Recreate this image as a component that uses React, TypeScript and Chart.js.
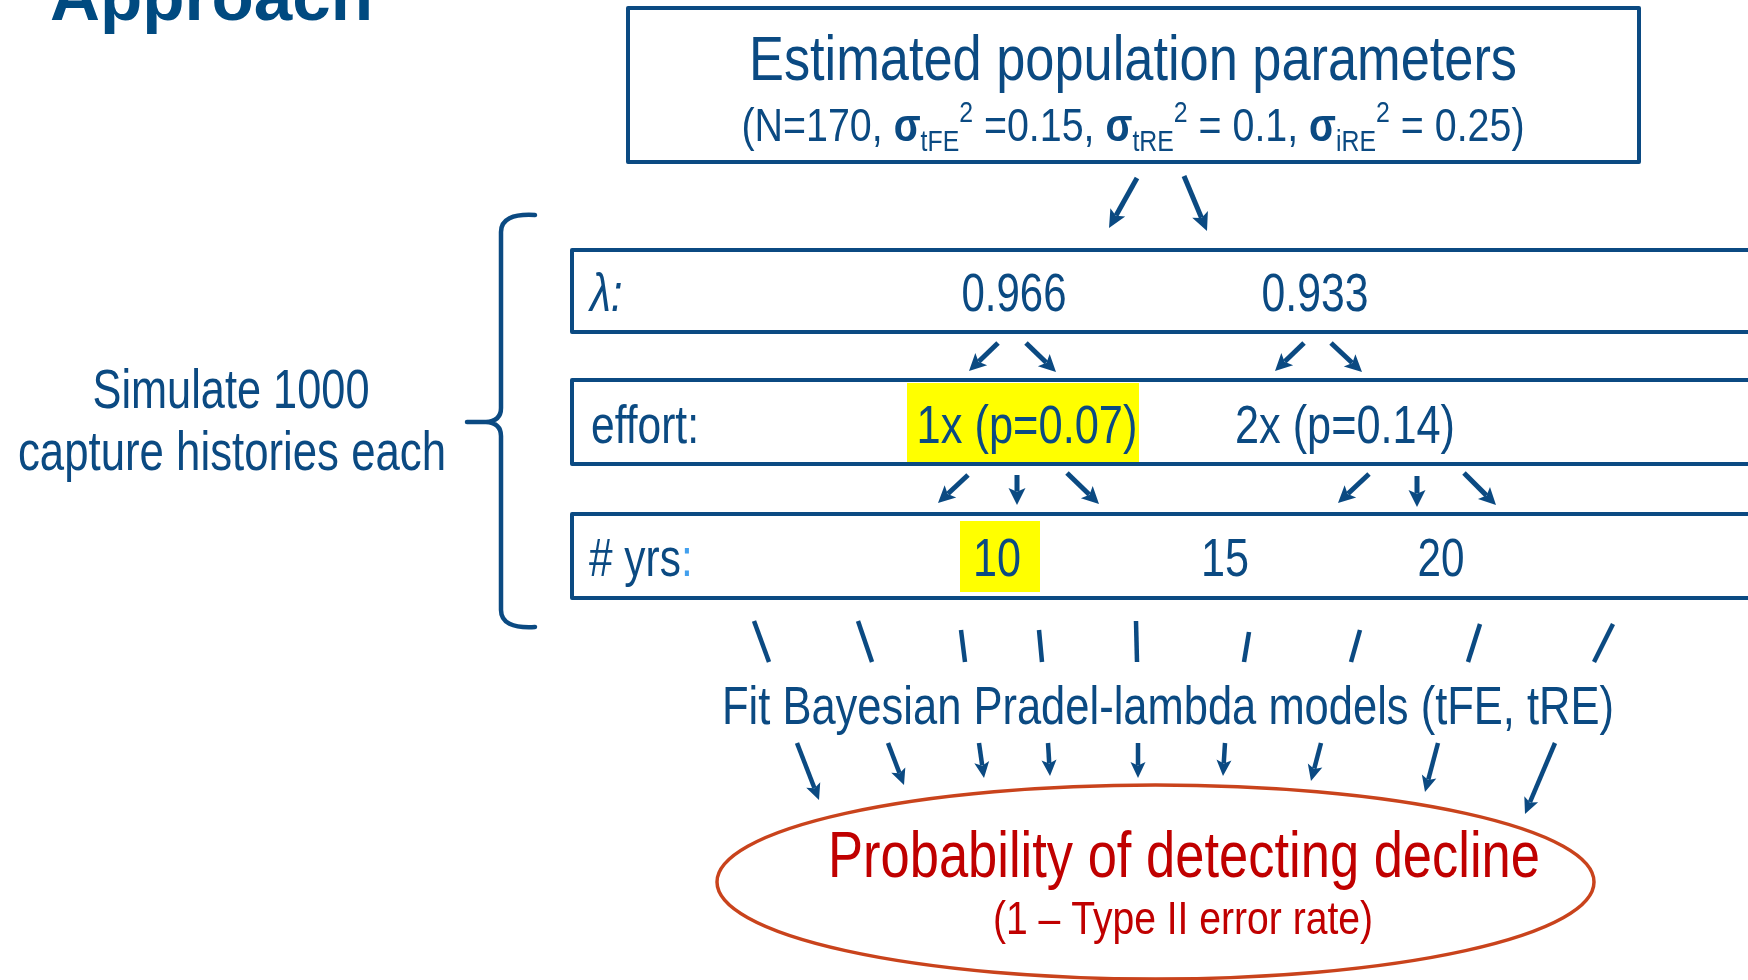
import { useEffect, useRef } from "react";
import { Chart, registerables } from "chart.js";

Chart.register(...registerables);

// ---------- content ----------
const slideTitle = "Approach";
const paramTitle = "Estimated population parameters";
const paramSegments = [
  { t: "(N=170, ", k: "n" },
  { t: "σ", k: "b" },
  { t: "tFE", k: "sub" },
  { t: "2", k: "sup" },
  { t: " =0.15, ", k: "n" },
  { t: "σ", k: "b" },
  { t: "tRE", k: "sub" },
  { t: "2", k: "sup" },
  { t: " = 0.1, ", k: "n" },
  { t: "σ", k: "b" },
  { t: "iRE", k: "sub" },
  { t: "2", k: "sup" },
  { t: " = 0.25)", k: "n" },
];
const simulateLines = ["Simulate 1000", "capture histories each"];
const rowLabels = ["λ:", "effort:", "# yrs"];
const lambdaValues = ["0.966", "0.933"];
const effortLevels = ["1x (p=0.07)", "2x (p=0.14)"];
const yearCounts = ["10", "15", "20"];
const highlightedEffort = "1x (p=0.07)";
const highlightedYears = "10";
const fitLabel = "Fit Bayesian Pradel-lambda models (tFE, tRE)";
const outcomeLines = ["Probability of detecting decline", "(1 – Type II error rate)"];

// ---------- layout (diagram geometry, pixel units of the 1748x980 plane) ----------
const W = 1748;
const H = 980;
const BLUE = "#0b4a82";
const LIGHT_BLUE = "#42a0ee";
const RED = "#c00000";
const ORANGE = "#c9431c";
const YELLOW = "#ffff00";
const FONT = "'Liberation Sans', Arial, sans-serif";

const lambdaX = [1014, 1315];
const lambdaW = [105, 107];
const effortX = [1027, 1345];
const effortW = [221, 220];
const yearX = [997, 1225, 1441];
const yearW = [48, 48, 47];

const topArrows = [
  [1137, 178, 1109, 228],
  [1184, 176, 1207, 231],
];
const lambdaArrows = [
  [998, 343, 969, 371],
  [1026, 343, 1056, 372],
  [1304, 343, 1275, 371],
  [1331, 343, 1362, 372],
];
const effortArrows = [
  [968, 475, 938, 503],
  [1017, 475, 1017, 505],
  [1067, 473, 1099, 504],
  [1369, 474, 1338, 503],
  [1417, 476, 1417, 507],
  [1464, 473, 1496, 505],
];
const slashLines = [
  [754, 621, 769, 662],
  [858, 621, 872, 662],
  [961, 630, 965, 662],
  [1039, 630, 1042, 662],
  [1136, 621, 1137, 662],
  [1249, 632, 1244, 662],
  [1360, 630, 1351, 662],
  [1480, 624, 1468, 662],
  [1613, 624, 1594, 662],
];
const fitArrows = [
  [797, 743, 819, 800],
  [888, 743, 904, 785],
  [979, 743, 984, 778],
  [1048, 743, 1050, 776],
  [1138, 743, 1138, 778],
  [1225, 743, 1223, 776],
  [1321, 743, 1311, 781],
  [1438, 743, 1425, 792],
  [1555, 743, 1525, 814],
];

type Arrow = number[];

function shaft(a: Arrow, headLen: number) {
  const [x1, y1, x2, y2] = a;
  const dx = x2 - x1;
  const dy = y2 - y1;
  const L = Math.hypot(dx, dy);
  const k = (L - headLen * 0.8) / L;
  return [
    { x: x1, y: y1 },
    { x: x1 + dx * k, y: y1 + dy * k },
  ];
}

function lineDataset(pts: { x: number; y: number }[], width: number) {
  return {
    data: pts,
    showLine: true,
    borderColor: BLUE,
    backgroundColor: BLUE,
    borderWidth: width,
    pointRadius: 0,
    borderCapStyle: "butt" as const,
    fill: false,
    tension: 0,
  };
}

export default function App() {
  const canvasRef = useRef<HTMLCanvasElement | null>(null);

  useEffect(() => {
    document.body.style.margin = "0";
    const canvas = canvasRef.current;
    if (!canvas) return;

    const headed: { a: Arrow; len: number; half: number }[] = [];
    const datasets: any[] = [];
    const addArrows = (list: Arrow[], w: number, len: number, half: number) => {
      list.forEach((a) => {
        datasets.push(lineDataset(shaft(a, len), w));
        headed.push({ a, len, half });
      });
    };
    addArrows(topArrows, 5, 18, 8.5);
    addArrows(lambdaArrows, 5, 17, 8.5);
    addArrows(effortArrows, 5, 17, 8.5);
    addArrows(fitArrows, 4.5, 16, 7.5);
    slashLines.forEach((s) =>
      datasets.push(lineDataset([{ x: s[0], y: s[1] }, { x: s[2], y: s[3] }], 4.5))
    );

    const diagram = {
      id: "diagram",
      beforeDatasetsDraw(chart: any) {
        const ctx: CanvasRenderingContext2D = chart.ctx;
        const X = (v: number) => chart.scales.x.getPixelForValue(v);
        const Y = (v: number) => chart.scales.y.getPixelForValue(v);
        ctx.save();
        ctx.fillStyle = "#ffffff";
        ctx.fillRect(0, 0, chart.width, chart.height);
        // highlights
        ctx.fillStyle = YELLOW;
        const hiE = effortLevels.indexOf(highlightedEffort);
        if (hiE >= 0) {
          const cx = effortX[hiE];
          ctx.fillRect(X(cx - 120), Y(383), X(cx + 112) - X(cx - 120), Y(462) - Y(383));
        }
        const hiY = yearCounts.indexOf(highlightedYears);
        if (hiY >= 0) {
          const cx = yearX[hiY];
          ctx.fillRect(X(cx - 37), Y(521), X(cx + 43) - X(cx - 37), Y(592) - Y(521));
        }
        // boxes
        ctx.strokeStyle = BLUE;
        ctx.lineWidth = 4;
        ctx.lineJoin = "round";
        ctx.strokeRect(X(628), Y(8), X(1639) - X(628), Y(162) - Y(8));
        const rows = [
          [250, 332],
          [380, 464],
          [514, 598],
        ];
        rows.forEach(([t, b]) => {
          ctx.strokeRect(X(572), Y(t), X(1780) - X(572), Y(b) - Y(t));
        });
        ctx.restore();
      },
      afterDatasetsDraw(chart: any) {
        const ctx: CanvasRenderingContext2D = chart.ctx;
        const X = (v: number) => chart.scales.x.getPixelForValue(v);
        const Y = (v: number) => chart.scales.y.getPixelForValue(v);
        ctx.save();

        // arrowheads
        ctx.fillStyle = BLUE;
        headed.forEach(({ a, len, half }) => {
          const x1 = X(a[0]), y1 = Y(a[1]), x2 = X(a[2]), y2 = Y(a[3]);
          const ang = Math.atan2(y2 - y1, x2 - x1);
          const bx = x2 - Math.cos(ang) * len;
          const by = y2 - Math.sin(ang) * len;
          const nx = -Math.sin(ang), ny = Math.cos(ang);
          ctx.beginPath();
          ctx.moveTo(x2, y2);
          ctx.lineTo(bx + nx * half, by + ny * half);
          ctx.lineTo(x2 - Math.cos(ang) * len * 0.78, y2 - Math.sin(ang) * len * 0.78);
          ctx.lineTo(bx - nx * half, by - ny * half);
          ctx.closePath();
          ctx.fill();
        });

        const text = (
          s: string,
          x: number,
          y: number,
          size: number,
          o: { align?: CanvasTextAlign; width?: number; sx?: number; color?: string; weight?: string; style?: string } = {}
        ) => {
          ctx.font = `${o.style || "normal"} ${o.weight || "normal"} ${size}px ${FONT}`;
          const m = ctx.measureText(s).width;
          const sx = o.width ? o.width / m : o.sx ?? 0.8;
          ctx.save();
          ctx.translate(X(x), Y(y));
          ctx.scale(sx, 1);
          ctx.textAlign = o.align || "center";
          ctx.textBaseline = "alphabetic";
          ctx.fillStyle = o.color || BLUE;
          ctx.fillText(s, 0, 0);
          ctx.restore();
          return m * sx;
        };

        // slide title (cut at top)
        text(slideTitle, 50, 20, 69, { align: "left", width: 323, weight: "bold", color: "#004a80" });

        // parameter box
        text(paramTitle, 1133, 80, 63, { width: 768 });
        {
          const main = 46, small = 29;
          const fontFor = (k: string) =>
            `${k === "b" ? "bold" : "normal"} ${k === "sub" || k === "sup" ? small : main}px ${FONT}`;
          let total = 0;
          paramSegments.forEach((sg) => {
            ctx.font = fontFor(sg.k);
            total += ctx.measureText(sg.t).width;
          });
          const sx = 783 / total;
          let cx = X(1133) - (total * sx) / 2;
          paramSegments.forEach((sg) => {
            ctx.font = fontFor(sg.k);
            const w = ctx.measureText(sg.t).width;
            const dy = sg.k === "sub" ? 10 : sg.k === "sup" ? -19 : 0;
            ctx.save();
            ctx.translate(cx, Y(141 + dy));
            ctx.scale(sx, 1);
            ctx.textAlign = "left";
            ctx.fillStyle = BLUE;
            ctx.fillText(sg.t, 0, 0);
            ctx.restore();
            cx += w * sx;
          });
        }

        // left annotation
        text(simulateLines[0], 231, 408, 56, { width: 277 });
        text(simulateLines[1], 232, 470, 56, { width: 428 });

        // bracket
        ctx.strokeStyle = BLUE;
        ctx.lineWidth = 4.5;
        ctx.lineCap = "round";
        ctx.lineJoin = "round";
        ctx.beginPath();
        ctx.moveTo(X(535), Y(215));
        ctx.quadraticCurveTo(X(501), Y(213), X(501), Y(232));
        ctx.lineTo(X(501), Y(408));
        ctx.quadraticCurveTo(X(501), Y(421), X(486), Y(422));
        ctx.lineTo(X(467), Y(422));
        ctx.moveTo(X(486), Y(422));
        ctx.quadraticCurveTo(X(501), Y(423), X(501), Y(436));
        ctx.lineTo(X(501), Y(610));
        ctx.quadraticCurveTo(X(501), Y(629), X(535), Y(627));
        ctx.stroke();

        // rows
        text(rowLabels[0], 590, 311, 53, { align: "left", style: "italic", sx: 0.8 });
        lambdaValues.forEach((v, i) => text(v, lambdaX[i], 311, 53, { width: lambdaW[i] }));
        text(rowLabels[1], 591, 443, 53, { align: "left", width: 108 });
        effortLevels.forEach((v, i) => text(v, effortX[i], 443, 53, { width: effortW[i] }));
        const yw = text(rowLabels[2], 589, 576, 53, { align: "left", sx: 0.8 });
        text(":", 589 + yw, 576, 53, { align: "left", sx: 0.8, color: LIGHT_BLUE });
        yearCounts.forEach((v, i) => text(v, yearX[i], 576, 53, { width: yearW[i] }));

        // fit label
        text(fitLabel, 1168, 724, 54, { width: 892 });

        // outcome ellipse
        ctx.strokeStyle = ORANGE;
        ctx.lineWidth = 3.5;
        ctx.beginPath();
        ctx.ellipse(X(1155.5), Y(882), X(1155.5 + 438.5) - X(1155.5), Y(882 + 97) - Y(882), 0, 0, Math.PI * 2);
        ctx.stroke();
        text(outcomeLines[0], 1184, 877, 65, { width: 712, color: RED });
        text(outcomeLines[1], 1183, 934, 46, { width: 380, color: RED });

        ctx.restore();
      },
    };

    const chart = new Chart(canvas, {
      type: "scatter",
      data: { datasets },
      options: {
        responsive: false,
        maintainAspectRatio: false,
        devicePixelRatio: 1,
        animation: false,
        events: [],
        layout: { padding: 0 },
        plugins: { legend: { display: false }, tooltip: { enabled: false } },
        scales: {
          x: { type: "linear", min: 0, max: W, display: false },
          y: { type: "linear", min: 0, max: H, reverse: true, display: false },
        },
      },
      plugins: [diagram],
    });
    return () => chart.destroy();
  }, []);

  return (
    <div style={{ position: "relative", width: W, height: H, overflow: "hidden" }}>
      <canvas ref={canvasRef} width={W} height={H} style={{ width: W, height: H, display: "block" }} />
    </div>
  );
}
